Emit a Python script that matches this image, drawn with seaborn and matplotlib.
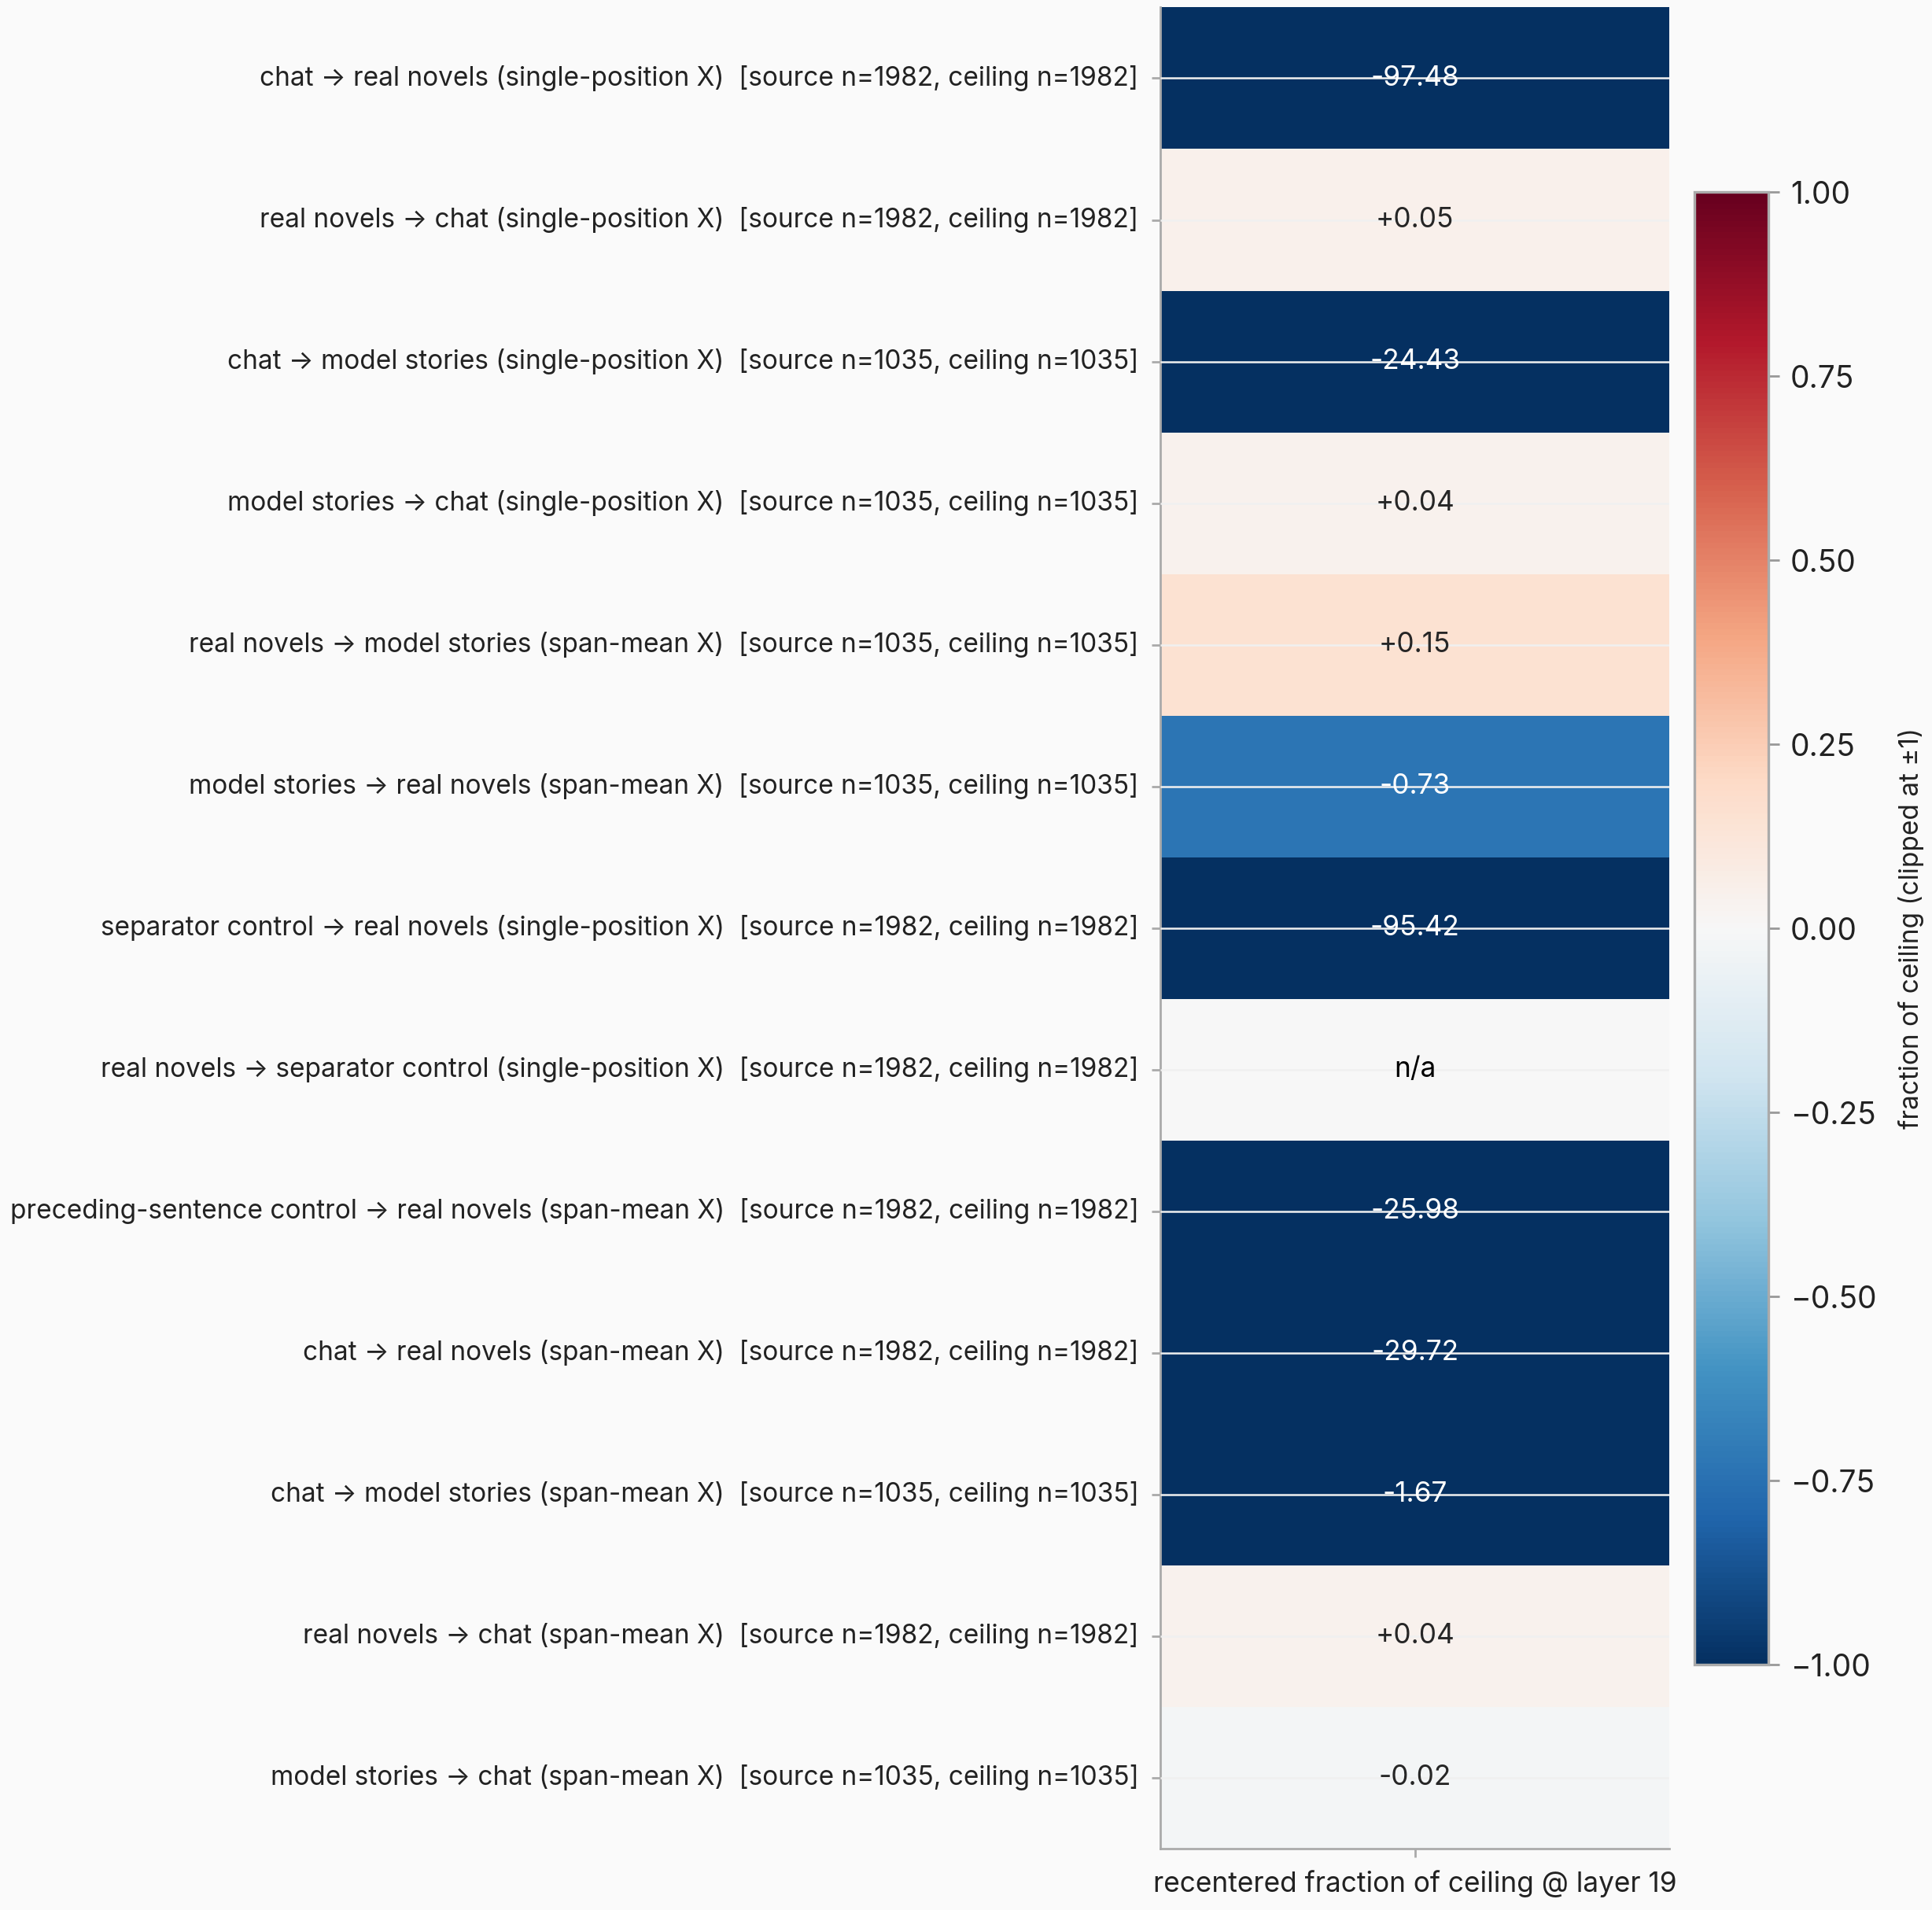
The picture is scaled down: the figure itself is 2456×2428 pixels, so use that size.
import numpy as np
import pandas as pd
import matplotlib
matplotlib.use("Agg")
import matplotlib.pyplot as plt
import seaborn as sns

# ---- data ----
pairs = [
    "chat → real novels (single-position X)",
    "real novels → chat (single-position X)",
    "chat → model stories (single-position X)",
    "model stories → chat (single-position X)",
    "real novels → model stories (span-mean X)",
    "model stories → real novels (span-mean X)",
    "separator control → real novels (single-position X)",
    "real novels → separator control (single-position X)",
    "preceding-sentence control → real novels (span-mean X)",
    "chat → real novels (span-mean X)",
    "chat → model stories (span-mean X)",
    "real novels → chat (span-mean X)",
    "model stories → chat (span-mean X)",
]
source_n = [1982, 1982, 1035, 1035, 1035, 1035, 1982, 1982, 1982, 1982, 1035, 1982, 1035]
ceiling_n = [1982, 1982, 1035, 1035, 1035, 1035, 1982, 1982, 1982, 1982, 1035, 1982, 1035]
frac_ceiling = [-97.48, 0.05, -24.43, 0.04, 0.15, -0.73, -95.42, np.nan,
                -25.98, -29.72, -1.67, 0.04, -0.02]
col_name = "recentered fraction of ceiling @ layer 19"
cbar_ticks = [-1.0, -0.75, -0.5, -0.25, 0.0, 0.25, 0.5, 0.75, 1.0]

row_labels = [f"{p}  [source n={s}, ceiling n={c}]"
              for p, s, c in zip(pairs, source_n, ceiling_n)]
df = pd.DataFrame({col_name: frac_ceiling}, index=row_labels)

annot = np.array([["n/a" if np.isnan(v) else f"{v:+.2f}"] for v in frac_ceiling],
                 dtype=object)

# ---- style ----
sns.set_theme(style="whitegrid")
plt.rcParams["font.family"] = ["Inter", "DejaVu Sans"]

fig = plt.figure(figsize=(12.28, 12.14), dpi=200, facecolor="#fafafa")
ax = fig.add_axes([0.6006, 0.0322, 0.2636, 0.9639])
cax = fig.add_axes([0.8770, 0.1285, 0.0383, 0.7710])
ax.set_facecolor("#f7f7f7")

sns.heatmap(
    df,
    ax=ax,
    cbar_ax=cax,
    cmap="RdBu_r",
    vmin=-1,
    vmax=1,
    center=0,
    annot=annot,
    fmt="",
    annot_kws={"fontsize": 12.7},
    cbar_kws={"label": "fraction of ceiling (clipped at ±1)"},
)

# n/a cell annotation (masked values are not annotated by seaborn)
for i, v in enumerate(frac_ceiling):
    if np.isnan(v):
        ax.text(0.5, i + 0.5, "n/a", ha="center", va="center",
                fontsize=12.7, color="black")

# horizontal guide lines at the row ticks
ax.grid(False)
ax.grid(True, axis="y", color="#f0f0f0", linewidth=0.9)
ax.set_axisbelow(False)

for side in ["left", "bottom"]:
    ax.spines[side].set_visible(True)
    ax.spines[side].set_color("#aaaaaa")
    ax.spines[side].set_linewidth(1.0)
ax.spines["top"].set_visible(False)
ax.spines["right"].set_visible(False)

ax.tick_params(axis="both", which="both", length=4, width=1, color="#aaaaaa",
               labelcolor="#222222", pad=6)
ax.tick_params(axis="y", left=True, labelrotation=0, labelsize=12)
ax.tick_params(axis="x", bottom=True, labelrotation=0, labelsize=12.7)
ax.set_ylabel("")

cax.tick_params(labelsize=14, length=5, width=1, color="#999999",
                labelcolor="#222222", pad=5)
cax.set_yticks(cbar_ticks)
cax.set_yticklabels([f"{t:.2f}".replace("-", "\u2212") for t in cbar_ticks])
cax.set_ylabel("fraction of ceiling (clipped at ±1)", fontsize=12,
               color="#222222", labelpad=10)
cbar = ax.collections[0].colorbar
cbar.outline.set_visible(True)
cbar.outline.set_edgecolor("#aaaaaa")
cbar.outline.set_linewidth(1.2)

fig.savefig("out.png", dpi=200, facecolor="#fafafa")
